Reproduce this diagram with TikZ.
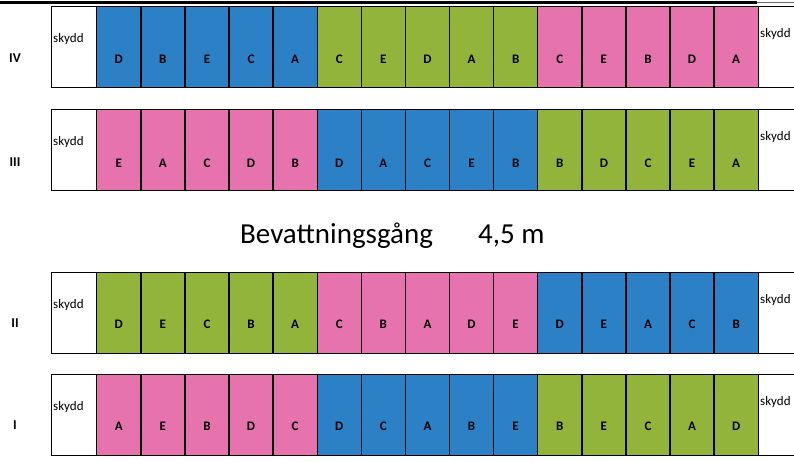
\documentclass[tikz,border=0pt]{standalone}
\usepackage{fontspec}
\setmainfont{Carlito}
\definecolor{cblue}{HTML}{2B80C6}
\definecolor{cgreen}{HTML}{93B43A}
\definecolor{cpink}{HTML}{E672AE}
\tikzset{
  cell/.style={draw=black, line width=1.4pt, minimum width=44.1pt, minimum height=81pt, inner sep=0pt, anchor=north west},
  skyddbox/.style={draw=black, fill=white, line width=1.4pt, minimum width=45pt, minimum height=81pt, inner sep=0pt, anchor=north west},
  skyddtxt/.style={font=\fontsize{13}{13}\selectfont, inner sep=0pt, anchor=base west},
  lett/.style={font=\bfseries\fontsize{13}{13}\selectfont, inner sep=0pt},
  numeral/.style={font=\bfseries\fontsize{13.5}{13.5}\selectfont, inner sep=0pt},
  hand/.style={font=\fontsize{29}{29}\selectfont, inner sep=0pt, anchor=base west}
}
\newcommand{\plotrow}[5]{%
  \node[skyddbox] (#1sl) at (51,#2) {};
  \node[skyddtxt] (#1slt) at (53,{#2+36}) {skydd};
  \foreach \c/\l [count=\i] in {#4} {
    \node[cell, fill=\c] (#1c\i) at ({96+(\i-1)*44.1},#2) {};
    \node[lett] (#1l\i) at ([yshift=-#5pt]#1c\i.center) {\l};
  }
  \node[skyddbox, minimum width=60pt] (#1sr) at (757.5,#2) {};
  \node[skyddtxt] (#1srt) at (760,{#2+31}) {skydd};
  \node[numeral] (#1n) at ([yshift=-#5pt]{15,#2+40.5}) {#3};
}
\begin{document}
\begin{tikzpicture}[x=1pt,y=-1pt]
\useasboundingbox (0,0) rectangle (794,461);
\fill[white] (0,0) rectangle (794,461);
\begin{scope}
\clip (0,0) rectangle (794,461);
\draw[line width=3pt] (0,2) -- (757,2);
\draw[line width=1pt, black!60] (757,2) -- (794,2);
\plotrow{r4}{6}{IV}{cblue/D,cblue/B,cblue/E,cblue/C,cblue/A,cgreen/C,cgreen/E,cgreen/D,cgreen/A,cgreen/B,cpink/C,cpink/E,cpink/B,cpink/D,cpink/A}{12}
\plotrow{r3}{109}{III}{cpink/E,cpink/A,cpink/C,cpink/D,cpink/B,cblue/D,cblue/A,cblue/C,cblue/E,cblue/B,cgreen/B,cgreen/D,cgreen/C,cgreen/E,cgreen/A}{13}
\plotrow{r2}{272}{II}{cgreen/D,cgreen/E,cgreen/C,cgreen/B,cgreen/A,cpink/C,cpink/B,cpink/A,cpink/D,cpink/E,cblue/D,cblue/E,cblue/A,cblue/C,cblue/B}{11}
\plotrow{r1}{374}{I}{cpink/A,cpink/E,cpink/B,cpink/D,cpink/C,cblue/D,cblue/C,cblue/A,cblue/B,cblue/E,cgreen/B,cgreen/E,cgreen/C,cgreen/A,cgreen/D}{11}
\node[hand] (walk) at (240,243) {Bevattningsgång};
\node[hand] (width) at (478,243) {4,5 m};
\end{scope}
\end{tikzpicture}
\end{document}
